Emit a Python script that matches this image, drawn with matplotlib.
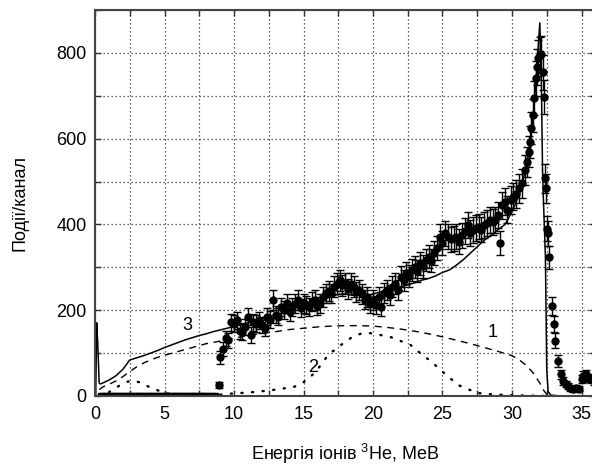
import numpy as np
import matplotlib
matplotlib.use('Agg')
import matplotlib.pyplot as plt
from matplotlib.ticker import MultipleLocator

plt.rcParams['font.family'] = ['Liberation Sans', 'DejaVu Sans']
plt.rcParams['mathtext.fontset'] = 'custom'
plt.rcParams['mathtext.rm'] = 'Liberation Sans'

# measured spectrum (energy MeV, counts per channel)
zero_E = [0.4, 0.6, 0.8, 1.0, 1.2, 1.4, 1.6, 1.8, 2.0, 2.2, 2.4, 2.6, 2.8, 3.0,
          3.2, 3.4, 3.6, 3.8, 4.0, 4.2, 4.4, 4.6, 4.8, 5.0, 5.2, 5.4, 5.6, 5.8,
          6.0, 6.2, 6.4, 6.6, 6.8, 7.0, 7.2, 7.4, 7.6, 7.8, 8.0, 8.2, 8.4, 8.6]
data_E = [8.9, 9.0, 9.2, 9.4, 9.6, 9.8, 10.0, 10.2, 10.4, 10.6, 10.8, 11.0, 11.2,
          11.4, 11.6, 11.8, 12.0, 12.2, 12.4, 12.6, 12.8, 13.0, 13.2, 13.4,
          13.6, 13.8, 14.0, 14.2, 14.4, 14.6, 14.8, 15.0, 15.2, 15.4, 15.6,
          15.8, 16.0, 16.2, 16.4, 16.6, 16.8, 17.0, 17.2, 17.4, 17.6, 17.8,
          18.0, 18.2, 18.4, 18.6, 18.8, 19.0, 19.2, 19.4, 19.6, 19.8, 20.0,
          20.2, 20.4, 20.6, 20.8, 21.0, 21.2, 21.4, 21.6, 21.8, 22.0, 22.2,
          22.4, 22.6, 22.8, 23.0, 23.2, 23.4, 23.6, 23.8, 24.0, 24.2, 24.4,
          24.6, 24.8, 25.0, 25.2, 25.4, 25.6, 25.8, 26.0, 26.2, 26.4, 26.6,
          26.8, 27.0, 27.2, 27.4, 27.6, 27.8, 28.0, 28.2, 28.4, 28.6, 28.8,
          29.0, 29.15, 29.3, 29.5, 29.65, 29.9, 30.1, 30.3, 30.5, 30.7, 30.9,
          31.1, 31.2, 31.3, 31.4, 31.5, 31.6, 31.7, 31.8, 31.9, 32.0, 32.1,
          32.2, 32.3, 32.4, 32.45, 32.5, 32.6, 32.65, 32.9, 33.0, 33.1, 33.3,
          33.5, 33.7, 33.9, 34.0, 34.2, 34.4, 34.6, 34.8, 35.0, 35.1, 35.3,
          35.5, 35.7, 35.9]
data_N = [26, 90, 110, 135, 130, 172, 169, 177, 152, 150, 161, 185, 142,
          172, 169, 177, 165, 158, 185, 178, 224, 190, 185, 208,
          200, 216, 195, 208, 215, 224, 205, 216, 212, 208, 220,
          224, 210, 216, 231, 239, 245, 239, 255, 262, 270, 258,
          263, 250, 262, 255, 242, 247, 238, 225, 231, 215, 224,
          212, 231, 207, 240, 247, 236, 255, 262, 248, 278, 270,
          286, 280, 294, 300, 292, 309, 302, 317, 325, 315, 333,
          345, 371, 356, 379, 371, 365, 368, 371, 360, 375, 385,
          399, 380, 387, 392, 395, 388, 398, 403, 410, 405, 410,
          422, 356, 445, 453, 434, 457, 465, 472, 484, 496, 527,
          546, 570, 592, 625, 655, 695, 741, 767, 788, 795, 797,
          755, 697, 508, 484, 390, 379, 323, 210, 168, 129, 82,
          51, 35, 28, 23, 18, 16, 19, 17, 40, 47, 51,
          42, 40, 35]

# curve 3: total simulated spectrum
sum_E = [0.05, 0.12, 0.2, 0.3, 0.4, 0.6, 1.0, 1.5, 2.0, 2.5, 3.0, 3.5, 4.0,
         4.5, 5.0, 5.5, 6.0, 6.5, 7.0, 7.5, 8.0, 8.5, 9.0, 9.5, 10.0, 10.5,
         11.0, 11.5, 12.0, 12.5, 13.0, 13.5, 14.0, 14.5, 15.0, 15.5, 16.0,
         16.5, 17.0, 17.5, 18.0, 18.5, 19.0, 19.5, 20.0, 20.5, 21.0, 21.5,
         22.0, 22.5, 23.0, 23.5, 24.0, 24.5, 25.0, 25.5, 26.0, 26.5, 27.0,
         27.5, 28.0, 28.5, 29.0, 29.5, 30.0, 30.5, 31.0, 31.3, 31.6, 31.8,
         32.0, 32.1, 32.2, 32.3, 32.4, 32.45, 32.5, 32.6, 32.8, 33.5, 36.0]
sum_N = [0, 171, 120, 30, 28, 31, 37, 47, 62, 84, 89, 94, 100,
         106, 113, 119, 125, 131, 136, 141, 145, 150, 154, 158, 162, 166,
         171, 176, 180, 185, 190, 194, 205, 207, 212, 216, 220,
         226, 232, 237, 238, 235, 236, 233, 238, 242, 245, 250,
         255, 259, 264, 270, 274, 280, 288, 294, 305, 318, 333,
         348, 363, 375, 388, 400, 430, 468, 530, 590, 680, 770,
         870, 760, 520, 420, 330, 200, 60, 10, 2, 0, 0]

# curve 1
c1_E = [0.3, 0.6, 1.0, 1.5, 2.0, 2.5, 3.0, 3.5, 4.0, 4.5, 5.0, 6.0, 7.0, 8.0,
        9.0, 10.0, 11.0, 12.0, 13.0, 14.0, 15.0, 16.0, 17.0, 18.0, 19.0,
        20.0, 21.0, 22.0, 23.0, 24.0, 25.0, 26.0, 27.0, 28.0, 29.0, 30.0,
        30.5, 31.0, 31.5, 32.0, 32.3, 32.6]
c1_N = [15, 22, 27, 35, 45, 57, 68, 77, 84, 90, 95, 104, 113, 122,
        128, 135, 141, 146, 150, 155, 158, 161, 163, 164, 164,
        163, 160, 156, 151, 145, 138, 130, 122, 113, 104, 94,
        85, 72, 55, 30, 12, 0]

# curve 2
c2_E = [0.3, 0.8, 1.3, 1.8, 2.3, 2.7, 3.2, 3.7, 4.2, 4.7, 5.2, 5.7, 6.2, 6.7,
        8.5, 9.0, 9.5, 10.0, 11.0, 12.0, 13.0, 14.3, 15.0, 15.6, 16.1, 16.6,
        17.1, 17.7, 18.4, 19.1, 19.7, 20.4, 21.3, 22.0, 22.7, 23.4, 24.2,
        25.1, 26.1, 27.5, 28.5, 29.8, 31.0, 32.5]
c2_N = [0, 5, 15, 25, 33, 36, 32, 24, 17, 11, 6, 3, 1, 0,
        0, 3, 5, 6, 8, 11, 15, 21, 32, 48, 66, 88,
        104, 119, 135, 145, 147, 143, 137, 128, 119, 100, 80,
        54, 26, 7, 4, 2, 1, 0]

curve_labels = ['3', '1', '2']
label_pos = [(6.65, 165), (28.6, 149), (15.7, 67)]

fig = plt.figure(figsize=(5.92, 4.70), dpi=100)
ax = fig.add_axes([95 / 592, 74 / 470, 500.4 / 592, 386 / 470])

ax.plot(sum_E, sum_N, color='black', lw=1.1)
ax.plot(c1_E, c1_N, color='black', lw=1.0, dashes=(5, 4))
ax.plot(c2_E, c2_N, color='black', lw=1.7, dashes=(0.5, 4.0), dash_capstyle='round')

ax.plot(zero_E, [0] * len(zero_E), 's', color='black', ms=4)
data_N = np.array(data_N, dtype=float)
ax.errorbar(data_E, data_N, yerr=1.5 * np.sqrt(data_N), fmt='o', color='black',
            ms=5, elinewidth=1.0, capsize=3, capthick=1.0)

for txt, (x, y) in zip(curve_labels, label_pos):
    ax.text(x, y, txt, fontsize=13, ha='center', va='center')

ax.set_xlim(0, 36)
ax.set_ylim(0, 900)
ax.xaxis.set_major_locator(MultipleLocator(5))
ax.xaxis.set_minor_locator(MultipleLocator(2.5))
ax.yaxis.set_major_locator(MultipleLocator(200))
ax.yaxis.set_minor_locator(MultipleLocator(100))
ax.grid(which='both', color='#333333', linestyle=(0, (1, 2.2)), lw=0.9)
ax.tick_params(which='both', direction='in', top=True, right=True,
               length=4, width=1.0, labelsize=13, colors='#333333')
ax.tick_params(axis='x', pad=7)
ax.tick_params(axis='y', pad=6)
for tick in ax.get_xticklabels() + ax.get_yticklabels():
    tick.set_color('black')
for s in ax.spines.values():
    s.set_linewidth(1.5)
    s.set_color('#444444')

ax.set_xlabel('Енергія іонів $^{3}$He, МеВ', fontsize=13, labelpad=14)
ax.set_ylabel('Події/канал', fontsize=13, labelpad=20)

fig.savefig('out.png', dpi=100)
